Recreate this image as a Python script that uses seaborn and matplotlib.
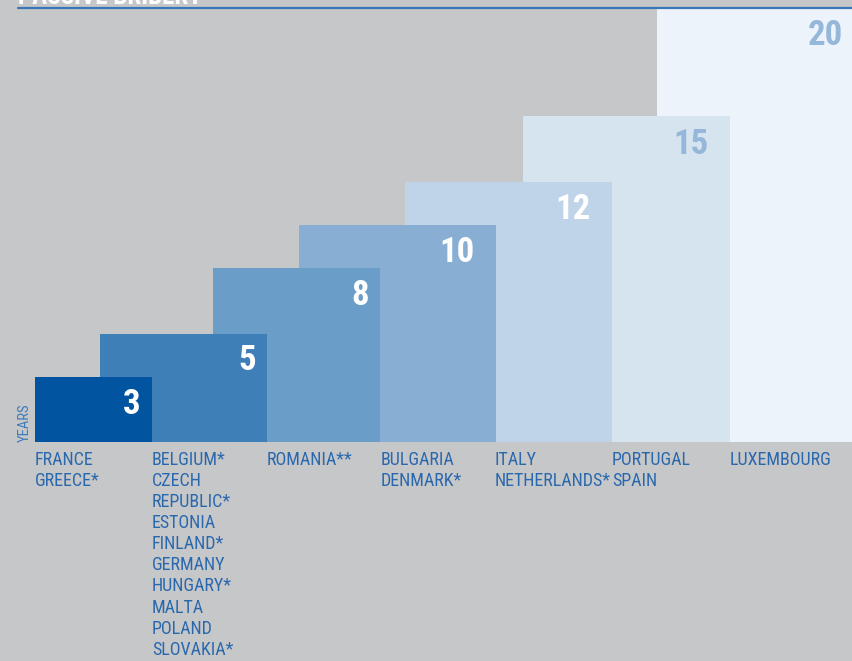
import matplotlib
matplotlib.use("Agg")
import matplotlib.pyplot as plt
import seaborn as sns
from matplotlib.lines import Line2D

# Data
years = [3, 5, 8, 10, 12, 15, 20]
countries = [
    ["FRANCE", "GREECE*"],
    ["BELGIUM*", "CZECH", "REPUBLIC*", "ESTONIA", "FINLAND*", "GERMANY",
     "HUNGARY*", "MALTA", "POLAND", "SLOVAKIA*"],
    ["ROMANIA**"],
    ["BULGARIA", "DENMARK*"],
    ["ITALY", "NETHERLANDS*"],
    ["PORTUGAL", "SPAIN"],
    ["LUXEMBOURG"],
]
title = "PASSIVE BRIBERY"

# Layout (horizontal extents of the staircase, in axis units)
bar_left = [0, 65, 178, 264, 370, 488, 622]
bar_right = [117, 232, 345, 461, 577, 695, 829]
label_x = [0, 117, 232, 346, 460, 577, 695]

bar_colors = ["#0054a0", "#3f7fb8", "#6a9dc8", "#88aed3",
              "#bfd4e8", "#d6e4ef", "#edf3fa"]
num_colors = ["white"] * 5 + ["#94b7da", "#94b7da"]
bg = "#c6c7c9"
text_blue = "#2a68ad"

sns.set_theme(style="white", rc={"figure.facecolor": bg, "axes.facecolor": bg})
plt.rcParams["font.family"] = ["Roboto Condensed", "Barlow Semi Condensed", "DejaVu Sans"]

fig = plt.figure(figsize=(8.52, 6.61), dpi=100)
ax = fig.add_axes([35 / 852, 219 / 661, 817 / 852, 434 / 661])

# smaller bars sit in front of the bigger ones
for i, v in enumerate(years):
    ax.bar(bar_left[i], v, width=bar_right[i] - bar_left[i], align="edge",
           color=bar_colors[i], linewidth=0, zorder=10 - i)
    pad = 11 if v < 10 else 21
    ax.annotate(str(v), xy=(bar_right[i], v), xytext=(-pad, -37),
                textcoords="offset pixels", ha="right", va="baseline",
                fontsize=25, fontweight="bold", color=num_colors[i],
                zorder=20, annotation_clip=False)
    ax.annotate("\n".join(countries[i]), xy=(label_x[i], 0), xytext=(0, -9),
                textcoords="offset pixels", ha="left", va="top",
                fontsize=13, color=text_blue, linespacing=1.22,
                annotation_clip=False)

ax.set_xlim(0, 817)
ax.set_ylim(0, 20)
ax.set_xticks([])
ax.set_yticks([])
ax.set_ylabel("YEARS", loc="bottom", fontsize=10.5, color="#3d7cbd", labelpad=2)
sns.despine(ax=ax, left=True, bottom=True)

# cut-off title and rule at the top
fig.text(18 / 852, 1 - 4 / 661, title, ha="left", va="baseline",
         fontsize=18, fontweight="bold", color="white")
fig.add_artist(Line2D([18 / 852, 1], [1 - 7.5 / 661, 1 - 7.5 / 661],
                      transform=fig.transFigure, color="#3b76b4", lw=1.6))

plt.savefig("out.png", dpi=100, facecolor=bg)
